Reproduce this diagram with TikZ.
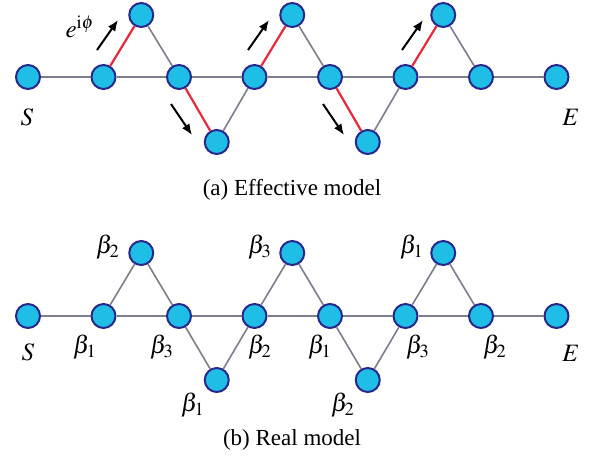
\documentclass[tikz,border=0pt]{standalone}
\usepackage{mathptmx}
\usepackage{fontspec}
\setmainfont{Liberation Serif}
\usetikzlibrary{positioning,arrows.meta}
\definecolor{sitefill}{RGB}{30,190,230}
\definecolor{siteline}{RGB}{40,40,140}
\definecolor{bondgray}{RGB}{125,125,140}
\definecolor{bondred}{RGB}{232,40,60}
\tikzset{
  site/.style={circle,draw=siteline,fill=sitefill,line width=1pt,minimum size=12pt,inner sep=0pt},
  bond/.style={draw=bondgray,line width=0.8pt},
  flux/.style={draw=bondred,line width=1.1pt},
  kick/.style={-{Latex[length=5.5pt,width=4.5pt]},line width=1pt},
  lbl/.style={font=\fontsize{12.5}{14}\selectfont,inner sep=0pt},
  caption/.style={font=\fontsize{11.5}{13}\selectfont,inner sep=0pt}
}

\begin{document}
\begin{tikzpicture}[x=0.5pt,y=-0.5pt]
\useasboundingbox (0,0) rectangle (599,457);

% (a) effective model
\node[site] (s0) at (28,77) {};
\node[site] (s1) at (103.5,77) {};
\node[site] (s2) at (179,77) {};
\node[site] (s3) at (254.5,77) {};
\node[site] (s4) at (330,77) {};
\node[site] (s5) at (405.5,77) {};
\node[site] (s6) at (481,77) {};
\node[site] (s7) at (556.5,77) {};
\node[site] (pa) at (141.25,15) {};
\node[site] (pb) at (292.25,15) {};
\node[site] (pc) at (443.25,15) {};
\node[site] (qa) at (216.75,142) {};
\node[site] (qb) at (367.75,142) {};

\draw[bond] (s0) -- (s1) -- (s2) -- (s3) -- (s4) -- (s5) -- (s6) -- (s7);
\draw[bond] (pa) -- (s2);
\draw[bond] (qa) -- (s3);
\draw[bond] (pb) -- (s4);
\draw[bond] (qb) -- (s5);
\draw[bond] (pc) -- (s6);
\draw[flux] (s1) -- (pa);
\draw[flux] (s2) -- (qa);
\draw[flux] (s3) -- (pb);
\draw[flux] (s4) -- (qb);
\draw[flux] (s5) -- (pc);

\node[lbl] (sa) at (27,117) {$S$};
\node[lbl] (ea) at (571,117) {$E$};
\node[lbl] (phase) at (80,27) {$e^{\mathrm{i}\phi}$};

\coordinate (u1) at (97,50);   \coordinate (u1e) at (118,20);
\coordinate (u2) at (248,50);  \coordinate (u2e) at (269,20);
\coordinate (u3) at (402,50);  \coordinate (u3e) at (423,20);
\coordinate (d1) at (171,104); \coordinate (d1e) at (192,135);
\coordinate (d2) at (323,104); \coordinate (d2e) at (344,135);
\draw[kick] (u1) -- (u1e);
\draw[kick] (u2) -- (u2e);
\draw[kick] (u3) -- (u3e);
\draw[kick] (d1) -- (d1e);
\draw[kick] (d2) -- (d2e);

\node[caption] (capa) at (292,190) {(a) Effective model};

% (b) real model
\node[site] (t0) at (28,316) {};
\node[site] (t1) at (103.5,316) {};
\node[site] (t2) at (179,316) {};
\node[site] (t3) at (254.5,316) {};
\node[site] (t4) at (330,316) {};
\node[site] (t5) at (405.5,316) {};
\node[site] (t6) at (481,316) {};
\node[site] (t7) at (556.5,316) {};
\node[site] (ua) at (141.25,253) {};
\node[site] (ub) at (292.25,253) {};
\node[site] (uc) at (443.25,253) {};
\node[site] (va) at (216.75,380) {};
\node[site] (vb) at (367.75,380) {};

\draw[bond] (t0) -- (t1) -- (t2) -- (t3) -- (t4) -- (t5) -- (t6) -- (t7);
\draw[bond] (t1) -- (ua) -- (t2) -- (va) -- (t3) -- (ub) -- (t4) -- (vb) -- (t5) -- (uc) -- (t6);

\node[lbl] (sb) at (28,352) {$S$};
\node[lbl] (eb) at (571,353) {$E$};
\node[lbl] at (85,347) {$\beta_1$};
\node[lbl] at (162,347) {$\beta_3$};
\node[lbl] at (260,347) {$\beta_2$};
\node[lbl] at (320,347) {$\beta_1$};
\node[lbl] at (418,347) {$\beta_3$};
\node[lbl] at (495,347) {$\beta_2$};
\node[lbl] at (108,247) {$\beta_2$};
\node[lbl] at (260,247) {$\beta_3$};
\node[lbl] at (412,247) {$\beta_1$};
\node[lbl] at (193,405) {$\beta_1$};
\node[lbl] at (343,405) {$\beta_2$};

\node[caption] (capb) at (292,440) {(b) Real model};
\end{tikzpicture}
\end{document}
